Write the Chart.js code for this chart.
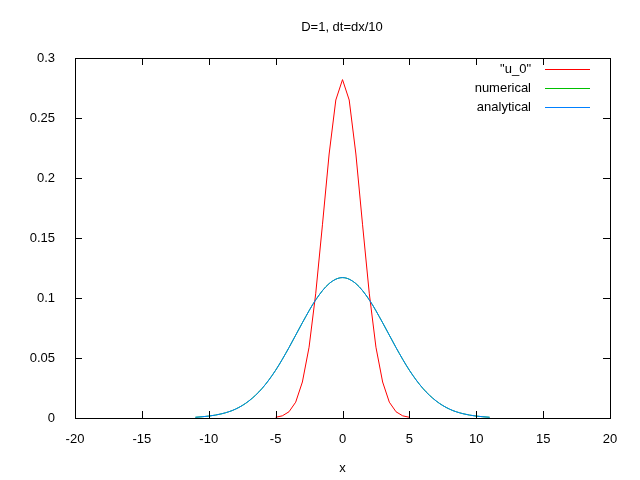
<!DOCTYPE html>
<html>
<head>
<meta charset="utf-8">
<script src="https://cdn.jsdelivr.net/npm/chart.js@4"></script>
<style>
  body { margin: 0; background: #fff; }
  #wrap { width: 640px; height: 480px; }
</style>
</head>
<body>
<div id="wrap"><canvas id="myChart" width="640" height="480"></canvas></div>
<script>
// initial profile u_0
const u0X = [-5, -4.5, -4, -3.5, -3, -2.5, -2, -1.5, -1, -0.5, 0, 0.5, 1, 1.5, 2, 2.5, 3, 3.5, 4, 4.5, 5];
const u0Y = [0.0006, 0.0018, 0.0052, 0.0132, 0.030, 0.059, 0.104, 0.161, 0.220, 0.265, 0.282,
             0.265, 0.220, 0.161, 0.104, 0.059, 0.030, 0.0132, 0.0052, 0.0018, 0.0006];

// numerical and analytical solutions (they overlap)
const solX = [-11, -10, -9, -8, -7, -6, -5, -4, -3, -2, -1, 0, 1, 2, 3, 4, 5, 6, 7, 8, 9, 10, 11];
const numY = [0.0006, 0.0016, 0.0036, 0.0074, 0.0142, 0.0248, 0.0398, 0.0587, 0.0794, 0.0985, 0.112, 0.117,
              0.112, 0.0985, 0.0794, 0.0587, 0.0398, 0.0248, 0.0142, 0.0074, 0.0036, 0.0016, 0.0006];
const anaY = [0.0006, 0.0016, 0.0036, 0.0074, 0.0142, 0.0248, 0.0398, 0.0587, 0.0794, 0.0985, 0.112, 0.117,
              0.112, 0.0985, 0.0794, 0.0587, 0.0398, 0.0248, 0.0142, 0.0074, 0.0036, 0.0016, 0.0006];

const seriesNames = ['"u_0"', 'numerical', 'analytical'];
const seriesColors = ['#ff0000', '#00c000', '#0080ff'];

const pts = (xs, ys) => xs.map((x, i) => ({ x: x, y: ys[i] }));
const FONT = 'Liberation Sans, Arial, sans-serif';

// gnuplot-like frame, inward ticks, title and legend
const gnuplotLook = {
    id: 'gnuplotLook',
    afterDraw(chart) {
        const c = chart.ctx, a = chart.chartArea;
        const xs = chart.scales.x, ys = chart.scales.y;
        c.save();
        c.strokeStyle = '#000';
        c.lineWidth = 1;
        c.strokeRect(a.left + 0.5, a.top + 0.5, a.right - a.left, a.bottom - a.top);
        c.beginPath();
        xs.ticks.forEach(t => {
            const px = Math.round(xs.getPixelForValue(t.value)) + 0.5;
            c.moveTo(px, a.bottom); c.lineTo(px, a.bottom - 7);
            c.moveTo(px, a.top); c.lineTo(px, a.top + 7);
        });
        ys.ticks.forEach(t => {
            const py = Math.round(ys.getPixelForValue(t.value)) + 0.5;
            c.moveTo(a.left, py); c.lineTo(a.left + 7, py);
            c.moveTo(a.right, py); c.lineTo(a.right - 7, py);
        });
        c.stroke();

        c.fillStyle = '#000';
        c.font = '13px ' + FONT;
        c.textAlign = 'center';
        c.textBaseline = 'middle';
        c.fillText('D=1, dt=dx/10', 342, 27);

        c.textAlign = 'right';
        seriesNames.forEach((n, i) => {
            const y = 69 + i * 19;
            c.fillStyle = '#000';
            c.fillText(n, 531, y);
            c.fillStyle = seriesColors[i];
            c.fillRect(545, y, 45, 1);
        });
        c.restore();
    }
};

const ctx = document.getElementById('myChart').getContext('2d');
new Chart(ctx, {
    type: 'line',
    data: {
        datasets: [
            { label: seriesNames[0], data: pts(u0X, u0Y), borderColor: seriesColors[0], borderWidth: 1, pointRadius: 0, fill: false, order: 1 },
            { label: seriesNames[1], data: pts(solX, numY), borderColor: seriesColors[1], borderWidth: 1, pointRadius: 0, fill: false, order: 2,
              cubicInterpolationMode: 'monotone' },
            { label: seriesNames[2], data: pts(solX, anaY), borderColor: seriesColors[2], borderWidth: 1, pointRadius: 0, fill: false, order: 0,
              cubicInterpolationMode: 'monotone' },
        ],
    },
    options: {
        responsive: false,
        animation: false,
        layout: { padding: { top: 58, right: 30, left: 0, bottom: 0 } },
        plugins: { legend: { display: false }, tooltip: { enabled: false } },
        scales: {
            x: {
                type: 'linear', min: -20, max: 20,
                grid: { display: false }, border: { display: false },
                ticks: { stepSize: 5, color: '#000', font: { family: FONT, size: 13 }, padding: 6, maxRotation: 0 },
                title: { display: true, text: 'x', color: '#000', font: { family: FONT, size: 13 }, padding: { top: 8 } },
                afterFit: s => { s.height = 62; },
            },
            y: {
                min: 0, max: 0.3,
                grid: { display: false }, border: { display: false },
                ticks: { stepSize: 0.05, color: '#000', font: { family: FONT, size: 13 }, padding: 12,
                         callback: v => String(+v.toFixed(2)) },
                afterFit: s => { s.width = 75; },
            },
        },
    },
    plugins: [gnuplotLook],
});
</script>
</body>
</html>
